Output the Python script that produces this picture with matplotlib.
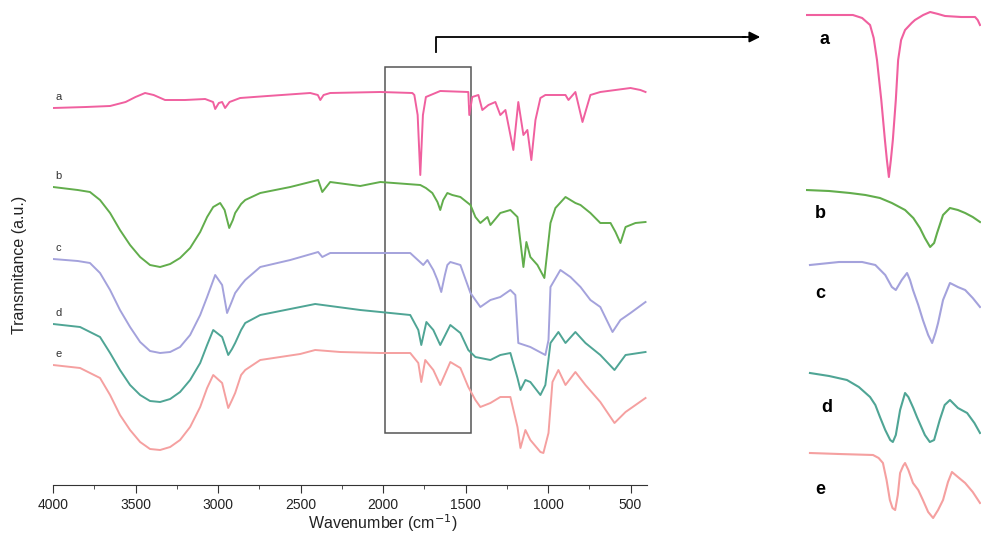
import numpy as np
import matplotlib as mpl
mpl.use('Agg')
from matplotlib import pyplot as plt
from matplotlib.lines import Line2D
from matplotlib.patches import Rectangle, FancyArrowPatch

# ---- main spectra (wavenumber in cm-1, offset transmittance in a.u.) ----
wn_a = [4000, 3800, 3654, 3560, 3500, 3442, 3390, 3321, 3200, 3078, 3030, 3017, 2995, 2975, 2957,
        2930, 2866, 2700, 2441, 2395, 2380, 2360, 2320, 2016, 1822, 1810,
        1790, 1774, 1758, 1740, 1653, 1483, 1477, 1459, 1422, 1398, 1361, 1319, 1289, 1258, 1210,
        1180, 1149, 1125, 1101, 1076, 1046, 1016, 894, 876, 834, 791, 743, 683, 500, 440, 409]
t_a = [377, 378, 379, 383, 388, 392, 390, 385, 385, 386, 383, 376, 382, 383, 377,
       383, 387, 389, 392, 390, 385, 390, 392, 393, 392, 390,
       370, 310, 370, 388, 394, 393, 370, 388, 390, 375, 380, 383, 370, 375, 335,
       383, 350, 355, 325, 365, 387, 390, 390, 385, 393, 363, 390, 393, 397, 395, 393]

wn_b = [4000, 3850, 3776, 3715, 3654, 3594, 3533, 3472, 3412, 3351, 3290, 3230, 3169, 3108, 3066,
        3029, 2987, 2960, 2932, 2910, 2896, 2860, 2835, 2744,
        2562, 2393, 2368, 2320, 2138, 2016, 1774, 1740, 1701, 1670, 1653, 1635, 1610, 1580, 1531,
        1470, 1440, 1410, 1367, 1349, 1289, 1228, 1185, 1149, 1131, 1107, 1064, 1022, 985, 955,
        894, 834, 803, 743, 683, 621, 591, 561, 530, 470, 409]
t_b = [298, 295, 293, 285, 272, 255, 240, 228, 220, 218, 221, 227, 237, 253, 268,
       278, 282, 275, 257, 265, 272, 281, 285, 292,
       298, 305, 293, 303, 299, 303, 300, 297, 292, 283, 275, 285, 292, 290, 288,
       280, 268, 262, 268, 260, 272, 275, 268, 218, 243, 228, 220, 207, 262, 277,
       288, 282, 280, 272, 262, 262, 253, 242, 258, 262, 263]

wn_c = [4000, 3850, 3776, 3715, 3654, 3594, 3533, 3472, 3412, 3351, 3290, 3230, 3169, 3108, 3066,
        3017, 2975, 2945, 2920, 2896, 2860, 2835, 2744, 2562, 2393, 2368, 2320, 2016, 1835, 1756,
        1731, 1695, 1670, 1647, 1625, 1610, 1592, 1531, 1470, 1410, 1349, 1289, 1228, 1198, 1180,
        1107, 1016, 997, 985, 925, 864, 803, 743, 683, 609, 561, 500, 409]
t_c = [226, 224, 222, 212, 195, 175, 158, 143, 134, 132, 133, 138, 150, 170, 188,
       210, 200, 172, 182, 192, 200, 205, 218, 225, 233, 228, 232, 232, 232, 220,
       225, 215, 205, 193, 210, 220, 223, 220, 192, 178, 185, 188, 195, 190, 142,
       138, 130, 145, 198, 215, 208, 198, 185, 178, 153, 165, 172, 183]

wn_d = [4000, 3836, 3715, 3654, 3594, 3533, 3472, 3412, 3351, 3290, 3230, 3169, 3108, 3066, 3029,
        2975, 2938, 2915, 2896, 2860, 2835, 2744, 2502,
        2411, 2138, 2016, 1835, 1786, 1768, 1737, 1695, 1653, 1592, 1531, 1483, 1440, 1349, 1289,
        1228, 1185, 1167, 1137, 1107, 1046, 1016, 985, 937, 894, 834, 773, 683, 597, 530, 409]
t_d = [161, 158, 148, 132, 115, 100, 90, 84, 83, 86, 93, 105, 122, 140, 155,
       148, 130, 136, 142, 155, 162, 170, 178,
       181, 175, 173, 170, 155, 140, 163, 155, 140, 160, 152, 135, 128, 125, 130,
       132, 107, 95, 105, 103, 90, 100, 142, 153, 142, 153, 142, 130, 115, 130, 133]

wn_e = [4000, 3836, 3715, 3654, 3594, 3533, 3472, 3412, 3351, 3290, 3230, 3169, 3108, 3066, 3029,
        2975, 2938, 2915, 2896, 2860, 2835, 2744,
        2502, 2411, 2259, 2016, 1835, 1786, 1768, 1744, 1695, 1653, 1592, 1531, 1483, 1440, 1410,
        1349, 1289, 1228, 1185, 1167, 1137, 1107, 1046, 1028, 997, 973, 937, 894, 834, 773,
        683, 597, 530, 409]
t_e = [120, 117, 107, 90, 70, 55, 43, 36, 35, 38, 45, 58, 78, 97, 110,
       102, 77, 85, 92, 110, 115, 125,
       131, 135, 133, 132, 132, 122, 103, 125, 115, 100, 123, 117, 98, 85, 78,
       82, 88, 88, 58, 37, 55, 45, 33, 32, 52, 103, 115, 100, 113, 100,
       83, 62, 73, 87]

# ---- zoomed 2000-1470 cm-1 region (inset) ----
zwn_a = [2000, 1900, 1858, 1830, 1806, 1795, 1785, 1772, 1761, 1755, 1749, 1743, 1737, 1728,
         1721, 1712, 1700, 1680, 1670, 1645, 1624, 1600, 1579, 1530, 1488, 1480, 1473]
zt_a = [515, 515, 515, 512, 505, 492, 470, 430, 390, 370, 353, 370, 390, 430,
        470, 490, 500, 507, 510, 515, 518, 516, 514, 513, 513, 510, 505]
zwn_b = [2000, 1930, 1867, 1820, 1776, 1740, 1700, 1675, 1655, 1640, 1624, 1612, 1603, 1585,
         1564, 1540, 1518, 1495, 1473]
zt_b = [340, 339, 337, 335, 332, 327, 320, 312, 302, 292, 283, 287, 297, 315,
        322, 320, 317, 313, 308]
zwn_c = [1988, 1900, 1830, 1790, 1760, 1740, 1728, 1710, 1694, 1685, 1676, 1660, 1646, 1630,
         1618, 1608, 1600, 1585, 1564, 1540, 1518, 1495, 1473]
zt_c = [265, 268, 268, 265, 255, 243, 240, 250, 257, 250, 240, 225, 210, 195,
        187, 197, 207, 230, 247, 243, 240, 232, 223]
zwn_d = [1988, 1930, 1876, 1840, 1806, 1790, 1776, 1760, 1745, 1737, 1728, 1715, 1700, 1690,
         1675, 1664, 1640, 1625, 1612, 1595, 1580, 1564, 1540, 1512, 1490, 1473]
zt_d = [157, 154, 150, 143, 133, 125, 113, 100, 90, 88, 95, 120, 137, 133,
        122, 113, 95, 88, 90, 110, 125, 130, 122, 117, 107, 97]
zwn_e = [1988, 1900, 1797, 1780, 1767, 1756, 1746, 1738, 1730, 1722, 1715, 1706, 1700, 1690,
         1676, 1660, 1646, 1630, 1615, 1600, 1585, 1570, 1558, 1540, 1518, 1495, 1473]
zt_e = [77, 76, 75, 72, 67, 50, 30, 22, 20, 35, 57, 64, 67, 60,
        47, 40, 30, 18, 12, 20, 30, 48, 58, 53, 47, 38, 27]

labels = ['a', 'b', 'c', 'd', 'e']
colors = ['#f0609f', '#62ad4c', '#a4a2dc', '#4fa595', '#f5a0a0']

font_main = ['Liberation Sans', 'DejaVu Sans']

fig = plt.figure(figsize=(9.81, 5.48), dpi=100)
W, H = 981.0, 548.0

ax = fig.add_axes([53/W, 1-485/H, 594/W, 455/H])
series = [(wn_a, t_a), (wn_b, t_b), (wn_c, t_c), (wn_d, t_d), (wn_e, t_e)]
for (x, y), lab, c in zip(series, labels, colors):
    ax.plot(x, y, color=c, linewidth=1.4)
    ax.text(3985, y[0] + 6, lab, fontsize=8, color='#333333', family=font_main,
            ha='left', va='bottom')

ax.set_xlim(4000, 400)
ax.set_ylim(0, 455)
for s in ['left', 'right', 'top']:
    ax.spines[s].set_visible(False)
ax.spines['bottom'].set_color('#333333')
ax.set_yticks([])
ax.set_xticks([4000, 3500, 3000, 2500, 2000, 1500, 1000, 500])
ax.set_xticks(np.arange(3750, 400, -500), minor=True)
ax.tick_params(axis='x', which='major', length=6, color='#333333', labelsize=10)
ax.tick_params(axis='x', which='minor', length=3, color='#333333')
for t in ax.get_xticklabels():
    t.set_family(font_main)
    t.set_color('#222222')

fig.text(383/W, 1-523/H, 'Wavenumber (cm$^{-1}$)', fontsize=11.5, family=font_main,
         color='#222222', ha='center', va='center')
fig.text(20/W, 1-265/H, 'Transmitance (a.u.)', rotation=90, fontsize=11.5,
         family=font_main, color='#222222', ha='center', va='center')

# box around the zoomed region
ax.add_patch(Rectangle((1986, 52), 1464-1986, 366, fill=False,
                       edgecolor='#555555', linewidth=1.1, clip_on=False))

# bent arrow to the inset
fig.add_artist(Line2D([436/W, 436/W, 745/W], [1-52/H, 1-37/H, 1-37/H],
                      transform=fig.transFigure, color='black', linewidth=1.3))
fig.add_artist(FancyArrowPatch((740/W, 1-37/H), (763/W, 1-37/H),
                               transform=fig.transFigure,
                               arrowstyle='-|>', mutation_scale=16,
                               color='black', linewidth=1.3))

# inset
ax2 = fig.add_axes([806/W, 1-530/H, 175/W, 530/H])
zseries = [(zwn_a, zt_a), (zwn_b, zt_b), (zwn_c, zt_c), (zwn_d, zt_d), (zwn_e, zt_e)]
zlab_pos = [(1958, 490), (1973, 317), (1973, 237), (1953, 122), (1973, 40)]
for (x, y), lab, c, (lx, ly) in zip(zseries, labels, colors, zlab_pos):
    ax2.plot(x, y, color=c, linewidth=1.5)
    ax2.text(lx, ly, lab, fontsize=13, fontweight='bold', color='black',
             family=font_main, ha='left', va='center')
ax2.set_xlim(2000, 1470)
ax2.set_ylim(0, 530)
ax2.axis('off')

plt.savefig('out.png', dpi=100)
